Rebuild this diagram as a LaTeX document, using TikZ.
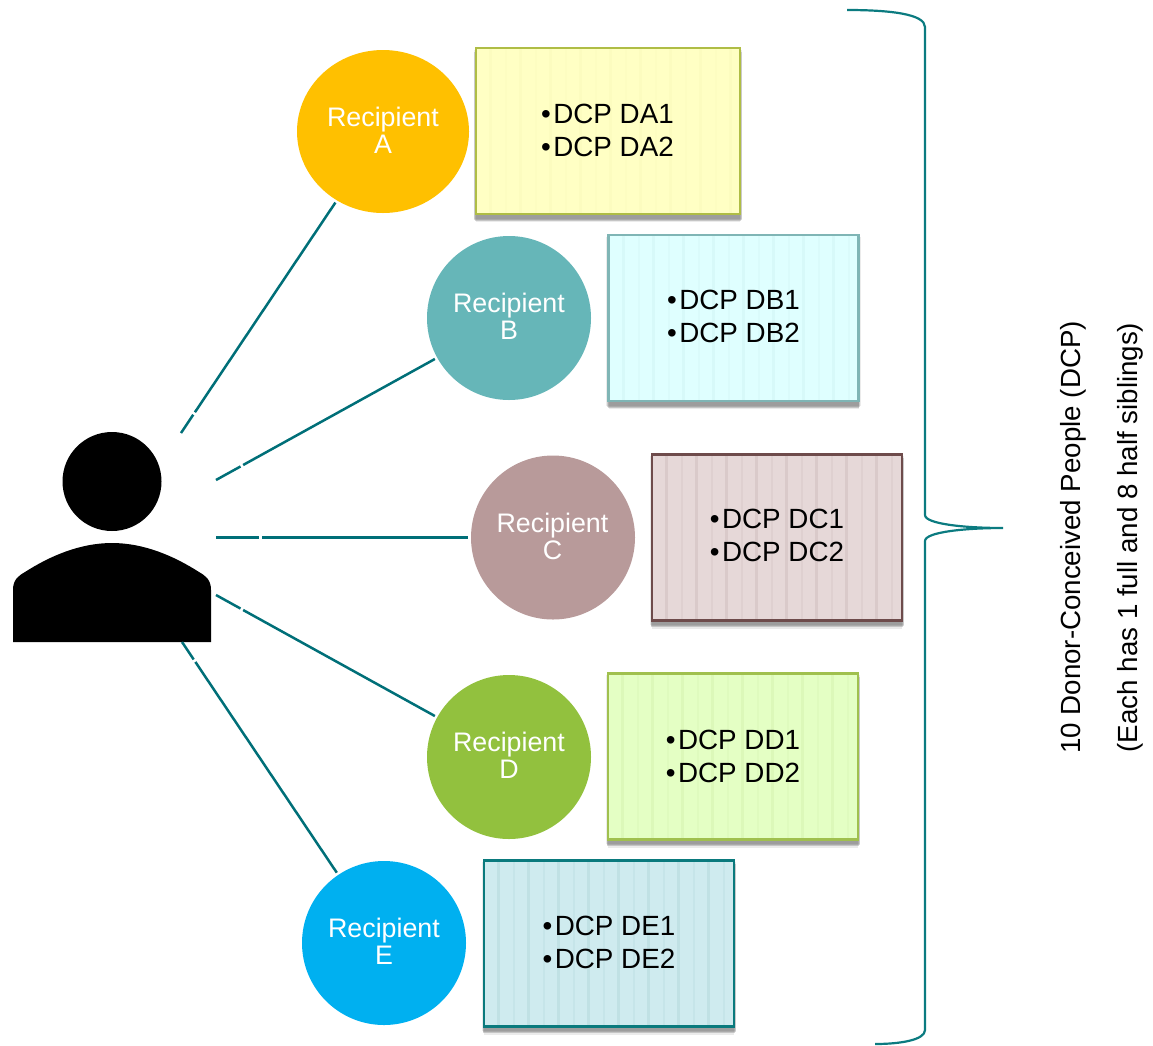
\documentclass[tikz,border=0pt]{standalone}
\usepackage{fontspec}
\setmainfont{Liberation Sans}
\usetikzlibrary{shapes.geometric,shadows}
\definecolor{teal1}{HTML}{006F78}
\definecolor{teal2}{HTML}{0B7B80}
\definecolor{ea}{HTML}{AFBD45}\definecolor{fa}{HTML}{FFFFC4}\definecolor{sa}{HTML}{E8E8A0}
\definecolor{eb}{HTML}{7FB5B5}\definecolor{fb}{HTML}{DFFFFF}\definecolor{sb}{HTML}{A0D0D0}
\definecolor{ec}{HTML}{6E4B4B}\definecolor{fc}{HTML}{E6D8D8}\definecolor{sc}{HTML}{8A6A6A}
\definecolor{ed}{HTML}{A0C04E}\definecolor{fd}{HTML}{E4FFC4}\definecolor{sd}{HTML}{A8C870}
\definecolor{ee}{HTML}{0A7A7D}\definecolor{fe}{HTML}{CFEBEF}\definecolor{se}{HTML}{5A9A9A}
\definecolor{ca}{HTML}{FFC000}\definecolor{cb}{HTML}{66B6B8}\definecolor{cc}{HTML}{B89A9A}
\definecolor{cd}{HTML}{92C13E}\definecolor{ce}{HTML}{00B0F0}
\tikzset{
  x=1pt,y=-1pt,
  softshadow/.style={
    general shadow={shadow xshift=0pt,shadow yshift=-3pt,shadow scale=1.018,fill=black,opacity=.08},
    general shadow={shadow xshift=0pt,shadow yshift=-4.5pt,shadow scale=1.012,fill=black,opacity=.14},
    general shadow={shadow xshift=0pt,shadow yshift=-6pt,shadow scale=1.006,fill=black,opacity=.16},
    general shadow={shadow xshift=0pt,shadow yshift=-8pt,fill=black,opacity=.08}},
  rec/.style={circle,inner sep=0pt,minimum size=164pt},
  rectext/.style={inner sep=0pt,text=white,align=center,font=\fontsize{26.8}{27}\selectfont},
  dcpbox/.style n args={3}{rectangle,draw=#1,line width=2.2pt,fill=#2,minimum width=250pt,minimum height=166pt,
    softshadow,
    path picture={
      \foreach \k in {1,3,...,17}{
        \fill[#3,opacity=.12]
          ([xshift=\k*15pt-2pt]path picture bounding box.south west) rectangle
          ([xshift=\k*15pt+1pt]path picture bounding box.north west);
      }
      \foreach \k in {2,4,...,16}{
        \fill[#3,opacity=.07]
          ([xshift=\k*15pt-1pt]path picture bounding box.south west) rectangle
          ([xshift=\k*15pt+1pt]path picture bounding box.north west);
      }}},
  dcptext/.style={inner sep=0pt,align=left,font=\fontsize{27.8}{33}\selectfont},
  link/.style={draw=teal1,line width=2.5pt,shorten >=2.5pt},
  bracket/.style={draw=teal2,line width=2.2pt},
}
\newcommand{\bul}{\char"2022\kern2.4pt}
\begin{document}
\begin{tikzpicture}
\useasboundingbox (0,0) rectangle (1153,1045);
% person
\fill[black] (112,481.5) circle[radius=49.5pt];
\fill[black] (13,642) -- (13,590) .. controls (13,580) and (18,576) .. (25,572) .. controls (50,556) and (80,543) .. (112,543) .. controls (144,543) and (174,556) .. (199,572) .. controls (206,576) and (211,580) .. (211,590) -- (211,642) -- cycle;
\coordinate (pa) at (181,433);
\coordinate (pb) at (216,480);
\coordinate (pc) at (216,537.5);
\coordinate (pd) at (216,595);
\coordinate (pe) at (182,642);
% recipients
\node[rec,ellipse,minimum width=172pt,minimum height=163pt,fill=ca] (ra) at (383,131.5) {};
\node[rec,fill=cb] (rb) at (509,318) {};
\node[rec,fill=cc] (rc) at (553,537.5) {};
\node[rec,fill=cd] (rd) at (509,757) {};
\node[rec,fill=ce] (re) at (384,943) {};
\node[rectext] (ta) at (383,130) {Recipient\\A};
\node[rectext] (tb) at (509,316) {Recipient\\B};
\node[rectext] (tc) at (552.5,536) {Recipient\\C};
\node[rectext] (td) at (509,755) {Recipient\\D};
\node[rectext] (te) at (384,941) {Recipient\\E};
% connectors
\draw[link,dash pattern=on 22pt off 3pt on 1000pt off 0pt] (pa) -- (ra);
\draw[link,dash pattern=on 28pt off 3pt on 1000pt off 0pt] (pb) -- (rb);
\draw[link,dash pattern=on 43pt off 3pt on 1000pt off 0pt] (pc) -- (rc);
\draw[link,dash pattern=on 28pt off 3pt on 1000pt off 0pt] (pd) -- (rd);
\draw[link,dash pattern=on 21pt off 3pt on 1000pt off 0pt] (pe) -- (re);
% boxes
\node[dcpbox={ea}{fa}{sa},minimum width=264pt] (ba) at (608,131) {};
\node[dcpbox={eb}{fb}{sb}] (bb) at (733.5,318) {};
\node[dcpbox={ec}{fc}{sc}] (bc) at (777,537.5) {};
\node[dcpbox={ed}{fd}{sd}] (bd) at (733,756.5) {};
\node[dcpbox={ee}{fe}{se}] (be) at (609,943.5) {};
\node[dcptext] (da) at (607.5,130.7) {\bul DCP DA1\\\bul DCP DA2};
\node[dcptext] (db) at (733.5,316.7) {\bul DCP DB1\\\bul DCP DB2};
\node[dcptext] (dc) at (777,535.7) {\bul DCP DC1\\\bul DCP DC2};
\node[dcptext] (dd) at (733,756.2) {\bul DCP DD1\\\bul DCP DD2};
\node[dcptext] (de) at (609,942.7) {\bul DCP DE1\\\bul DCP DE2};
% bracket
\coordinate (bt) at (847,10);
\coordinate (bm) at (1003,528);
\coordinate (bl) at (875,1044);
\draw[bracket] (bt) .. controls (890,10) and (925,14) .. (925,27) -- (925,515) .. controls (925,524) and (965,528) .. (bm) .. controls (965,528) and (925,532) .. (925,541) -- (925,1030) .. controls (925,1040) and (900,1044) .. (bl);
% side label
\node[rotate=90,align=center,font=\fontsize{27.7}{57}\selectfont] (lab) at (1102,537.5) {10 Donor-Conceived People (DCP)\\(Each has 1 full and 8 half siblings)};
\end{tikzpicture}
\end{document}
